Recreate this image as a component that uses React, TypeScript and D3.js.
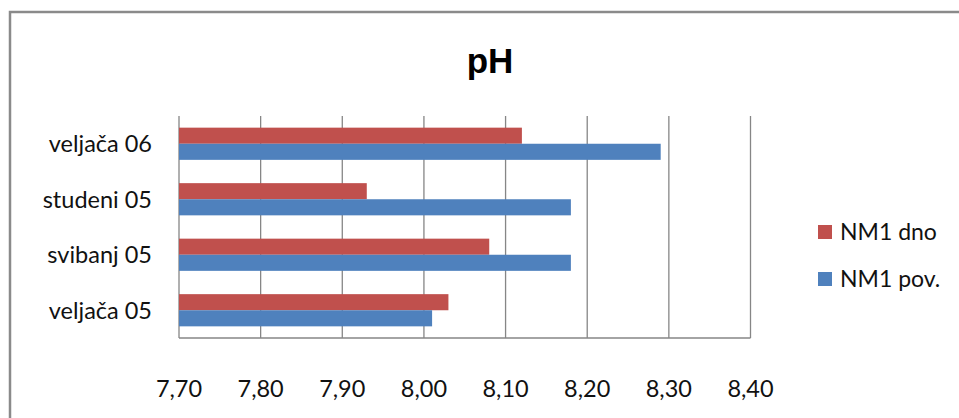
import * as d3 from "d3";
import React from "react";

const categories = ["veljača 05", "svibanj 05", "studeni 05", "veljača 06"];
const seriesNames = ["NM1 dno", "NM1 pov."];
const dno = [8.03, 8.08, 7.93, 8.12];
const pov = [8.01, 8.18, 8.18, 8.29];
const ticks = [7.7, 7.8, 7.9, 8.0, 8.1, 8.2, 8.3, 8.4];
const colors = ["#C0504D", "#4F81BD"];

const W = 959;
const H = 418;
const font = "Lato, 'Open Sans', sans-serif";

const App: React.FC = () => {
    const x = d3.scaleLinear().domain([7.7, 8.4]).range([179, 750.5]);
    // top category is the last one
    const y = d3.scaleBand().domain([...categories].reverse()).range([116, 338]).paddingInner(0.42).paddingOuter(0.21);
    const inner = d3.scaleBand().domain(seriesNames).range([0, y.bandwidth()]);
    const values = [dno, pov];
    const fmt = (v: number) => v.toFixed(2).replace(".", ",");

    return (
        <svg width={W} height={H} style={{ position: "absolute", left: 0, top: 0, background: "white" }}>
            <path d={`M10,${H + 5} L10,12 L${W + 5},12`} fill="none" stroke="#8a8a8a" strokeWidth={2.5} />
            <text x={490} y={73} textAnchor="middle" fontFamily="Arial, 'Liberation Sans', sans-serif" fontWeight="bold" fontSize={35}>pH</text>

            {ticks.map(t => (
                <g key={t}>
                    <line x1={x(t)} x2={x(t)} y1={116} y2={338} stroke="#868686" strokeWidth={1.3} />
                    <text x={x(t)} y={397} textAnchor="middle" fontFamily={font} fontSize={23.5} fill="#111">{fmt(t)}</text>
                </g>
            ))}
            <line x1={179} x2={x(8.4)} y1={338} y2={338} stroke="#868686" strokeWidth={1.3} />

            {categories.map((c, i) => (
                <g key={c}>
                    {seriesNames.map((s, k) => (
                        <rect key={s} x={x(7.7)} y={y(c)! + inner(s)!} width={x(values[k][i]) - x(7.7)}
                            height={inner.bandwidth()} fill={colors[k]} />
                    ))}
                    <text x={152} y={y(c)! + y.bandwidth() / 2 + 8.5} textAnchor="end" fontFamily={font} fontSize={23.5} fill="#111">{c}</text>
                </g>
            ))}

            {seriesNames.map((s, k) => (
                <g key={s} transform={`translate(818, ${225 + k * 47})`}>
                    <rect width={14} height={14} fill={colors[k]} />
                    <text x={22} y={15} fontFamily={font} fontSize={23} fill="#111">{s}</text>
                </g>
            ))}
        </svg>
    );
};

export default App;
